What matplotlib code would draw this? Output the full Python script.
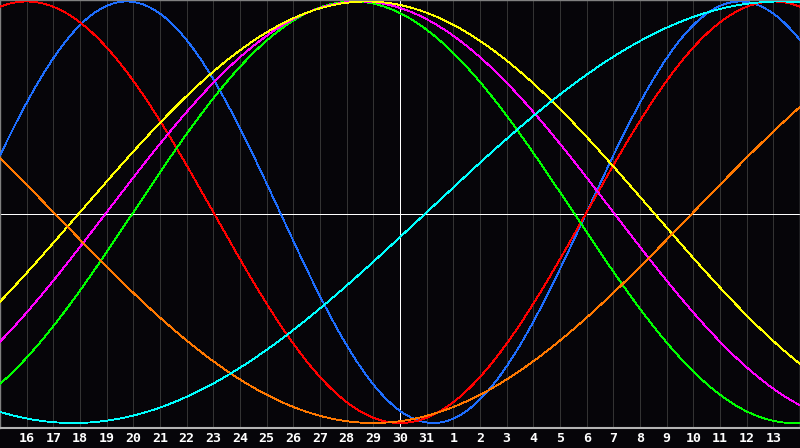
import matplotlib
matplotlib.use('Agg')
import matplotlib.pyplot as plt
import numpy as np

# biorhythm cycles (days) and their colours
cycles = [23, 28, 33, 38, 43, 48, 53]
colors = ['#1e6eff', '#ff0000', '#00ff00', '#ff00ff', '#ffff00', '#ff7800', '#00ffff']

# days alive on the first day of the chart (day 15)
days_alive = 43126

# calendar days along the chart
days = list(range(15, 32)) + list(range(1, 15))

bg = '#060509'
fig = plt.figure(figsize=(8, 4.48), dpi=100, facecolor=bg)
ax = fig.add_axes([0, 20 / 448, 1, 428 / 448], facecolor=bg)

n = len(days) - 1
t = np.linspace(0, n, 1601)

# day grid
for i in range(1, n):
    ax.axvline(i, color='#333333', lw=0.6, zorder=1, antialiased=False)

for p, c in zip(cycles, colors):
    ax.plot(t, np.sin(2 * np.pi * (days_alive + t) / p), color=c, lw=0.6,
            zorder=3, antialiased=False)

# today marker and middle line
ax.axvline(n / 2, color='white', lw=0.7, zorder=2, antialiased=False)
ax.plot([0, 1], [0.5, 0.5], transform=ax.transAxes, color='white', lw=0.7,
        zorder=2, antialiased=False)

ax.set_xlim(0, n)
ax.set_ylim(-1.0237, 1.007)

for s in ['top', 'left', 'right']:
    ax.spines[s].set_color('#808080')
    ax.spines[s].set_linewidth(1)
ax.spines['bottom'].set_color('#b4b4b4')
ax.spines['bottom'].set_linewidth(1.5)

ax.set_xticks(range(1, n))
ax.set_xticklabels([str(d) for d in days[1:n]], color='white',
                   fontsize=9.5, fontweight='bold', family='DejaVu Sans Mono')
ax.tick_params(axis='x', length=0, pad=3)
ax.set_yticks([])

plt.savefig('out.png', dpi=100, facecolor=bg)
